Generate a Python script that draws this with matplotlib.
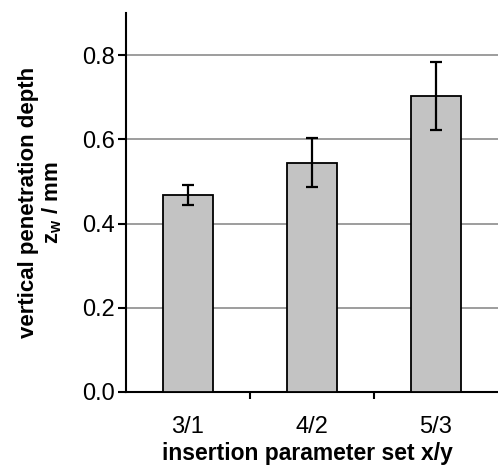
import numpy as np
import matplotlib
matplotlib.use("Agg")
import matplotlib.pyplot as plt

plt.rcParams["font.family"] = ["Liberation Sans", "DejaVu Sans"]
plt.rcParams["mathtext.fontset"] = "custom"
plt.rcParams["mathtext.rm"] = "Liberation Sans:bold"
plt.rcParams["mathtext.it"] = "Liberation Sans:bold"
plt.rcParams["mathtext.bf"] = "Liberation Sans:bold"

categories = ["3/1", "4/2", "5/3"]
depth = [0.467, 0.545, 0.703]
depth_err = [0.024, 0.058, 0.080]
yticks = [0.0, 0.2, 0.4, 0.6, 0.8]

fig = plt.figure(figsize=(4.98, 4.65), dpi=100)
ax = fig.add_axes([0.253, 0.157, 0.747, 0.815])

x = np.arange(len(categories))
ax.bar(x, depth, width=0.4, color="#c3c3c3", edgecolor="black", linewidth=1.3, zorder=3)
ax.errorbar(x, depth, yerr=depth_err, fmt="none", ecolor="black",
            elinewidth=1.6, capsize=4, capthick=1.6, zorder=4)

ax.set_xlim(-0.5, 2.5)
ax.set_ylim(0, 0.9)
ax.set_yticks(yticks)
ax.set_yticklabels([f"{v:.1f}" for v in yticks], fontsize=17)
ax.set_xticks(x)
ax.set_xticklabels(categories, fontsize=17)
ax.tick_params(axis="x", length=0, pad=17)
ax.set_xticks([0.5, 1.5], minor=True)
ax.tick_params(axis="x", which="minor", length=5, width=1.5, direction="out")
ax.tick_params(axis="y", length=6, width=1.5, direction="out", pad=2)

for v in yticks[1:]:
    ax.axhline(v, color="#8c8c8c", lw=1.2, zorder=1)

ax.spines["top"].set_visible(False)
ax.spines["right"].set_visible(False)
ax.spines["left"].set_linewidth(1.5)
ax.spines["bottom"].set_linewidth(1.5)

ax.set_xlabel("insertion parameter set x/y", fontsize=16.5, fontweight="bold")
ax.xaxis.set_label_coords(0.487, -0.133, transform=ax.transAxes)
ax.set_ylabel("vertical penetration depth\nz$_\\mathrm{w}$ / mm", fontsize=16,
              fontweight="bold", linespacing=1.05, labelpad=13)

fig.savefig("out.png", dpi=100)
